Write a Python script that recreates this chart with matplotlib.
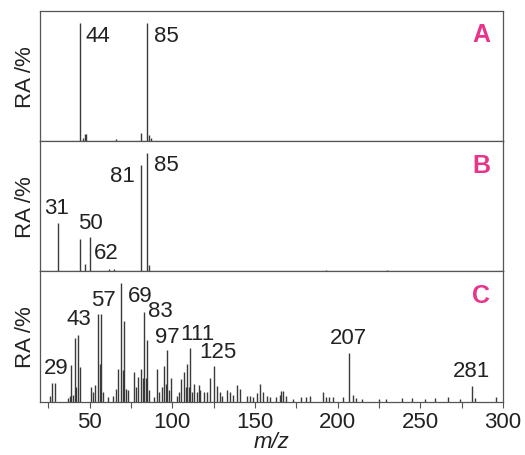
import matplotlib
matplotlib.use("Agg")
import matplotlib.pyplot as plt

plt.rcParams['font.family'] = ['Liberation Sans', 'DejaVu Sans']

# spectrum A
mz_a = [44, 46, 47, 48, 66, 81, 85, 86, 87]
ra_a = [100, 3, 6, 6, 2, 7, 100, 5, 3]

# spectrum B
mz_b = [31, 44, 47, 50, 62, 65, 81, 85, 86, 193, 230]
ra_b = [41, 27, 6.5, 29, 2, 2, 90, 100, 5, 1, 1]

# spectrum C
mz_c = [26, 27, 29, 37, 38, 39, 40, 41, 42, 43, 44, 51, 52, 53, 55, 56, 57, 58,
        61, 64, 66, 67, 69, 70, 71, 72, 73, 77, 78, 79, 81, 82, 83, 84, 85, 86,
        89, 91, 92, 94, 95, 96, 97, 98, 99, 103, 104, 105, 107, 108, 109, 110,
        111, 112, 113, 115, 116, 117, 119, 121, 123, 125, 127, 129, 130, 133,
        135, 137, 139, 141, 145, 147, 149, 151, 153, 155, 157, 159, 163, 165,
        166, 167, 169, 173, 178, 181, 183, 191, 193, 195, 197, 203, 207, 209,
        211, 215, 225, 229, 239, 245, 253, 259, 267, 274, 281, 283, 296]
ra_c = [5, 16, 16, 3, 5, 31, 6, 54, 12, 56, 29, 12, 8, 14, 74, 32, 74, 8,
        4, 5, 11, 28, 100, 27, 68, 11, 10, 25, 12, 21, 28, 20, 76, 20, 52, 10,
        4, 28, 8, 12, 30, 15, 44, 10, 20, 5, 8, 19, 25, 12, 32, 12,
        45, 8, 15, 8, 14, 10, 8, 8, 20, 30, 13, 8, 5, 10,
        8, 6, 14, 11, 5, 5, 4, 7, 15, 8, 5, 4, 4, 6,
        9, 9, 5, 2, 4, 4, 5, 8, 4, 4, 4, 4, 41, 6,
        3, 2, 2, 2, 3, 3, 2, 3, 4, 2, 13, 3, 4]

# labelled peaks: (m/z, text, dx px, dy px, ha, va)
lab_a = [(44, '44', 6, -2, 'left', 'top'), (85, '85', 7, -2, 'left', 'top')]
lab_b = [(31, '31', -2, 5, 'center', 'bottom'), (50, '50', 1, 4, 'center', 'bottom'),
         (62, '62', -3, 6, 'center', 'bottom'), (81, '81', -6, 0, 'right', 'top'),
         (85, '85', 7, -1, 'left', 'top')]
lab_c = [(29, '29', 1, 5, 'center', 'bottom'), (43, '43', 1, 6, 'center', 'bottom'),
         (57, '57', 2, 4, 'center', 'bottom'), (69, '69', 7, -2, 'left', 'top'),
         (83, '83', 4, 1, 'left', 'center'), (97, '97', 0, 3, 'center', 'bottom'),
         (111, '111', 7, 4, 'center', 'bottom'), (125, '125', 4, 4, 'center', 'bottom'),
         (207, '207', -1, 5, 'center', 'bottom'), (281, '281', 0, 5, 'center', 'bottom')]

panels = [('A', mz_a, ra_a, lab_a), ('B', mz_b, ra_b, lab_b), ('C', mz_c, ra_c, lab_c)]

fig = plt.figure(figsize=(5.25, 4.56), dpi=100)
left, width = 40 / 525, 463 / 525
h = 130.3 / 456
bottom0 = 1 - 402.7 / 456

for i, (name, mz, ra, labs) in enumerate(panels):
    ax = fig.add_axes([left, bottom0 + (2 - i) * h, width, h])
    ax.vlines(mz, 0, ra, color='#3a3a3a', lw=1.0)
    ax.set_xlim(20, 300)
    ax.set_ylim(0, 110)
    ax.set_yticks([])
    for s in ax.spines.values():
        s.set_color('#555555')
        s.set_linewidth(0.9)
    height = dict(zip(mz, ra))
    for m, t, dx, dy, ha, va in labs:
        ax.annotate(t, (m, height[m]), xytext=(dx, dy), textcoords='offset pixels',
                    ha=ha, va=va, fontsize=16, color='#222222')
    ax.text(0.953, 0.82, name, transform=ax.transAxes, ha='center', va='center',
            fontsize=18, fontweight='bold', color='#e8358c')
    ax.set_ylabel('RA /%', fontsize=16, labelpad=3, color='#222222')
    if i < 2:
        ax.set_xticks([])
    else:
        ax.set_xticks([50, 100, 150, 200, 250, 300])
        ax.set_xticks([25, 75, 125, 175, 225, 275], minor=True)
        ax.tick_params(axis='x', which='both', direction='out', length=4,
                       width=0.8, color='#555555', labelsize=16, labelcolor='#222222', pad=3)
        ax.set_xlabel('m/z', fontsize=16, fontstyle='italic', labelpad=-1, color='#222222')

fig.savefig('out.png', dpi=100)
